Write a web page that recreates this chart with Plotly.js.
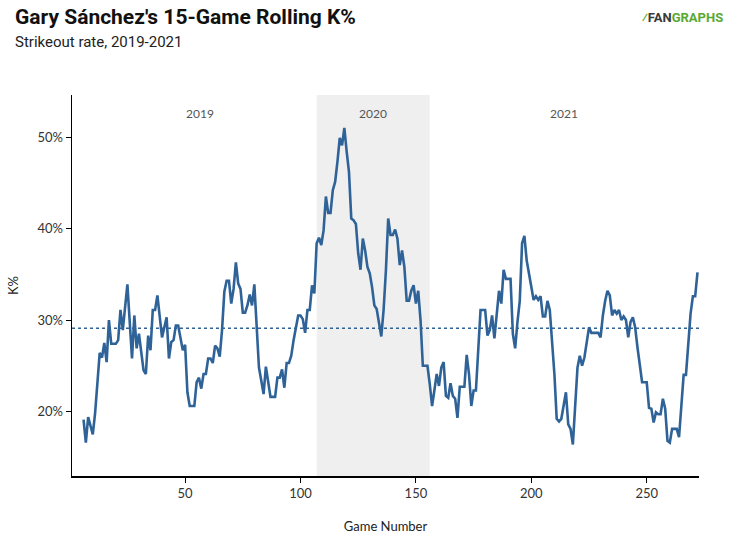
<!DOCTYPE html>
<html>
<head>
<meta charset="utf-8">
<script src="https://cdn.plot.ly/plotly-3.0.1.min.js"></script>
<style>
  html, body { margin: 0; padding: 0; background: #fff; }
  #chart { width: 730px; height: 535px; }
</style>
</head>
<body>
<div id="chart"></div>
<script>
// game number (x) and 15-game rolling K% (y)
var games = [
  6,7,8,10,11,13,14,15,16,17,
  18,20,21,22,23,25,27,28,29,30,
  32,33,34,35,36,37,38,40,42,43,
  44,45,46,47,49,50,51,52,54,55,
  56,57,58,59,60,61,62,63,64,65,
  66,67,68,69,70,71,72,73,74,75,
  76,77,78,79,80,81,82,83,84,85,
  86,87,89,90,91,92,93,94,95,96,
  97,99,100,101,102,103,104,105,106,107,
  108,109,110,111,112,113,114,115,116,117,
  118,119,120,121,122,123,124,125,126,127,
  128,129,130,131,132,133,135,136,137,138,
  139,140,141,142,143,144,145,146,147,148,
  149,150,151,152,153,155,156,157,158,159,
  160,161,162,163,164,165,166,167,168,169,
  171,172,173,174,175,176,177,178,180,181,
  182,183,184,185,186,187,188,189,191,192,
  193,194,195,196,197,198,199,201,202,203,
  204,205,206,207,208,209,210,211,212,213,
  215,216,217,218,219,220,221,222,223,224,
  225,226,229,230,231,232,233,234,235,236,
  237,238,239,240,241,242,243,244,245,246,
  247,248,250,251,252,253,254,255,256,257,
  258,259,260,261,263,264,265,266,267,268,
  269,270,271,272
];
var kPct = [
  19.1,16.6,19.4,17.5,19.8,26.4,25.9,27.5,25.4,30.0,
  27.4,27.4,27.8,31.1,28.9,33.9,25.8,30.5,26.9,28.5,
  24.5,24.1,28.3,26.7,31.1,31.1,32.7,28.1,30.3,25.8,
  27.6,27.8,29.4,29.4,26.7,27.3,22.1,20.6,20.6,23.2,
  23.7,22.5,24.1,24.1,25.8,25.8,25.3,27.2,26.9,26.0,
  28.9,33.1,34.3,34.3,31.8,33.4,36.3,34.0,33.4,30.8,
  30.8,31.6,32.8,31.6,33.9,29.6,24.8,23.4,21.9,24.9,
  23.0,21.6,21.6,23.7,23.7,24.6,22.6,25.3,25.3,26.1,
  27.8,30.5,30.5,30.1,28.6,31.1,31.1,33.8,32.9,38.4,
  39.0,38.2,39.8,43.5,41.7,41.7,44.2,45.1,47.3,49.9,
  49.1,51.0,48.4,46.2,41.1,40.9,40.5,37.3,35.5,38.9,
  37.6,35.8,35.1,33.6,31.6,31.2,28.2,31.1,35.4,41.1,
  39.3,39.3,39.9,38.9,36.0,37.6,35.8,32.1,32.1,33.2,
  33.8,31.8,33.2,30.0,25.0,25.0,23.0,20.6,22.3,24.1,
  22.8,24.8,25.4,21.7,21.5,23.1,21.7,21.4,19.3,22.7,
  22.7,26.2,24.1,20.6,22.3,22.3,26.7,31.1,31.1,28.3,
  28.9,30.5,28.0,30.3,33.2,31.8,35.5,34.5,34.5,28.5,
  26.9,29.8,32.1,38.4,39.2,36.5,34.9,32.2,32.6,32.2,
  32.6,30.4,30.4,32.1,31.1,27.4,24.1,19.2,18.9,19.2,
  22.1,18.6,18.1,16.4,20.3,24.8,26.1,25.0,25.9,27.4,
  29.2,28.6,28.6,28.1,30.5,32.1,33.2,32.7,30.5,31.1,
  30.7,31.1,30.0,30.4,30.0,28.1,29.8,30.3,29.2,27.0,
  25.2,23.2,23.2,20.4,20.3,18.8,19.9,19.7,19.7,21.4,
  20.3,16.8,16.6,18.1,18.1,17.2,20.6,24.0,24.0,27.0,
  30.7,32.6,32.6,35.2
];
var avgK = 29.1;

var seasons = ['2019', '2020', '2021'];
var seasonMid = [56.5, 131.5, 214];
var season2020 = [107, 156];

var xTicks = [50, 100, 150, 200, 250];
var yTicks = [20, 30, 40, 50];
var yTickText = yTicks.map(function (v) { return v + '%'; });

var lineBlue = '#2f6398';
var tickFont = { family: 'Lato, "Open Sans", sans-serif', size: 13, color: '#333' };

var trace = {
  x: games,
  y: kPct,
  type: 'scatter',
  mode: 'lines',
  line: { color: lineBlue, width: 2.6 },
  hoverinfo: 'x+y'
};

var annos = seasons.map(function (s, i) {
  return {
    text: s, x: seasonMid[i], xref: 'x', y: 1, yref: 'paper',
    yanchor: 'top', yshift: -9, showarrow: false,
    font: { family: 'Lato, sans-serif', size: 12, color: '#555' }
  };
});

annos.push({
  text: "Gary Sánchez's 15-Game Rolling K%",
  xref: 'paper', yref: 'paper', x: -0.0946, y: 1.2046,
  xanchor: 'left', yanchor: 'middle', showarrow: false,
  font: { family: 'Roboto, sans-serif', size: 21, color: '#111', weight: 'bold' }
});
annos.push({
  text: 'Strikeout rate, 2019-2021',
  xref: 'paper', yref: 'paper', x: -0.0946, y: 1.139,
  xanchor: 'left', yanchor: 'middle', showarrow: false,
  font: { family: 'Roboto, sans-serif', size: 15, color: '#222' }
});
annos.push({
  text: '<b><span style="color:#5aa832">⁄</span><span style="color:#3a3a3a">FAN</span><span style="color:#5aa832">GRAPHS</span></b>',
  xref: 'paper', yref: 'paper', x: 1.041, y: 1.2046,
  xanchor: 'right', yanchor: 'middle', showarrow: false,
  font: { family: 'Roboto, sans-serif', size: 13 }
});

var layout = {
  width: 730,
  height: 535,
  margin: { l: 72, r: 31, t: 95, b: 59 },
  paper_bgcolor: '#fff',
  plot_bgcolor: '#fff',
  showlegend: false,
  xaxis: {
    range: [1, 272.65],
    tickmode: 'array',
    tickvals: xTicks,
    ticks: 'outside', ticklen: 5, tickcolor: '#000', tickwidth: 1,
    showline: true, linecolor: '#000', linewidth: 1.5,
    showgrid: false, zeroline: false,
    tickfont: tickFont,
    title: { text: 'Game Number', font: { family: 'Lato, sans-serif', size: 13, color: '#222' }, standoff: 22 }
  },
  yaxis: {
    range: [12.95, 54.6],
    tickmode: 'array',
    tickvals: yTicks,
    ticktext: yTickText,
    ticks: 'outside', ticklen: 5, tickcolor: '#000', tickwidth: 1,
    showline: true, linecolor: '#000', linewidth: 1.5,
    showgrid: false, zeroline: false,
    tickfont: tickFont,
    title: { text: 'K%', font: { family: 'Lato, sans-serif', size: 13, color: '#222' }, standoff: 16 }
  },
  shapes: [
    {
      type: 'rect', xref: 'x', yref: 'paper',
      x0: season2020[0], x1: season2020[1], y0: 0, y1: 1,
      fillcolor: '#efefef', line: { width: 0 }, layer: 'below'
    },
    {
      type: 'line', xref: 'paper', yref: 'y',
      x0: 0, x1: 1, y0: avgK, y1: avgK,
      line: { color: lineBlue, width: 1.6, dash: 'dot' }, layer: 'below'
    }
  ],
  annotations: annos
};

Plotly.newPlot('chart', [trace], layout, { displayModeBar: false, staticPlot: true });
</script>
</body>
</html>
